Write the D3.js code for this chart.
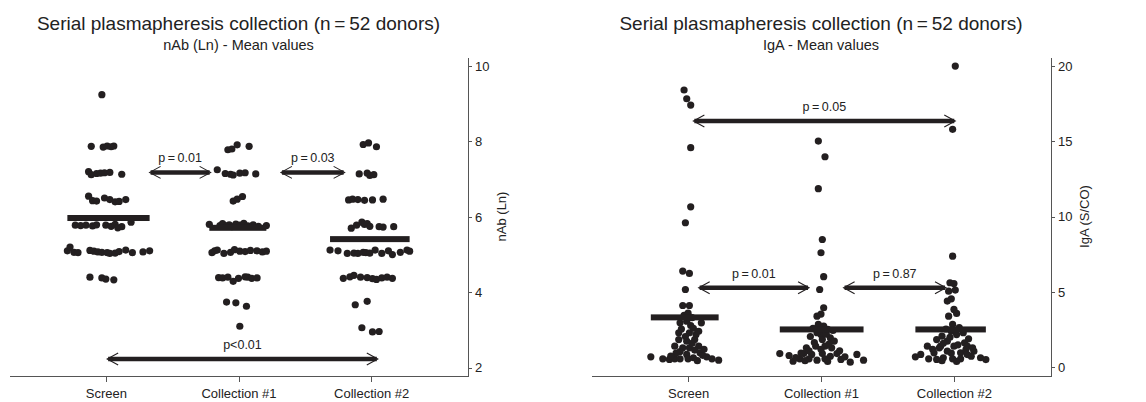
<!DOCTYPE html>
<meta charset="utf-8">
<head>
  <title>Serial plasmapheresis collection</title>
</head>
<style>
body { margin: 0; background: #fff; }
svg { font-family: "Liberation Sans", Arial, sans-serif; }
.dot { fill: #231f20; }
.mean { fill: #231f20; }
.axis path, .axis line { stroke: #555; stroke-width: 1px; shape-rendering: crispEdges; }
.axis text { fill: #222; font-size: 13px; font-family: "Liberation Sans", Arial, sans-serif; }
.arrow { stroke: #231f20; stroke-width: 4.5px; fill: none; }
.head { stroke: #231f20; stroke-width: 1.1px; fill: none; }
.plabel { fill: #222; font-size: 12.5px; text-anchor: middle; }
.title { fill: #222; font-size: 19px; text-anchor: middle; }
.subtitle { fill: #222; font-size: 14.5px; text-anchor: middle; }
.ytitle { fill: #222; font-size: 13px; text-anchor: middle; }
</style>
<body>
<svg width="1146" height="402"></svg>

<script src="https://cdnjs.cloudflare.com/ajax/libs/d3/7.8.5/d3.min.js"></script>
<script>
var categories = ["Screen", "Collection #1", "Collection #2"];

// each point: [horizontal jitter in category units, value]
var nabScreen = [
  [-0.03,9.24],
  [-0.11,7.87],[-0.02,7.85],[0.01,7.88],[0.04,7.86],[0.06,7.88],
  [-0.13,7.20],[-0.11,7.12],[-0.07,7.15],[-0.04,7.16],[-0.01,7.17],[0.03,7.18],[0.12,7.13],
  [-0.13,6.55],[-0.10,6.43],[-0.07,6.42],[-0.01,6.50],[0.03,6.46],[0.07,6.40],[0.10,6.41],[0.15,6.46],
  [-0.23,5.78],[-0.19,5.77],[-0.15,5.78],[-0.10,5.76],[-0.07,5.79],[0.00,5.78],[0.04,5.75],[0.07,5.80],[0.09,5.71],[0.12,5.74],[0.19,5.86],
  [-0.29,5.10],[-0.27,5.20],[-0.24,5.06],[-0.21,5.05],[-0.12,5.11],[-0.09,5.09],[-0.06,5.07],[-0.03,5.06],[0.01,5.05],[0.03,5.03],[0.07,5.04],[0.10,5.08],[0.15,5.12],[0.20,5.05],[0.28,5.07],[0.33,5.10],
  [-0.12,4.40],[-0.03,4.38],[0.00,4.35],[0.06,4.33]
];
var nabColl1 = [
  [-0.08,7.78],[-0.05,7.80],[-0.01,7.91],[0.08,7.87],
  [-0.16,7.25],[-0.10,7.15],[-0.06,7.13],[-0.04,7.11],[0.01,7.16],[0.05,7.17],[0.13,7.14],
  [-0.04,6.42],[-0.01,6.47],[0.03,6.54],
  [-0.22,5.80],[-0.14,5.77],[-0.12,5.82],[-0.09,5.76],[-0.07,5.79],[-0.05,5.74],[-0.02,5.81],[0.01,5.78],[0.04,5.83],[0.07,5.76],[0.11,5.79],[0.15,5.75],[0.21,5.77],
  [-0.20,5.05],[-0.18,5.10],[-0.16,5.12],[-0.11,5.03],[-0.06,5.06],[-0.03,5.13],[0.01,5.09],[0.05,5.08],[0.09,5.11],[0.14,5.10],[0.18,5.07],[0.21,5.09],
  [-0.15,4.39],[-0.12,4.38],[-0.08,4.40],[-0.04,4.29],[0.00,4.37],[0.05,4.41],[0.07,4.40],[0.10,4.37],[0.14,4.38],
  [-0.09,3.74],[-0.02,3.72],[0.06,3.63],
  [0.01,3.10]
];
var nabColl2 = [
  [-0.06,7.92],[-0.02,7.96],[0.04,7.86],
  [-0.09,7.14],[-0.03,7.16],[-0.01,7.10],[0.02,7.12],
  [-0.17,6.45],[-0.14,6.47],[-0.10,6.46],[-0.05,6.44],[0.01,6.45],[0.09,6.47],
  [-0.15,5.70],[-0.11,5.78],[-0.07,5.86],[-0.05,5.80],[-0.03,5.82],[-0.01,5.75],[0.06,5.74],[0.09,5.73],[0.17,5.74],
  [-0.31,5.12],[-0.25,5.10],[-0.18,5.03],[-0.13,5.04],[-0.10,5.03],[-0.06,5.06],[-0.04,5.05],[-0.01,5.04],[0.03,5.12],[0.08,5.03],[0.13,5.10],[0.16,5.00],[0.22,5.06],[0.27,5.12],[0.29,5.09],
  [-0.21,4.37],[-0.16,4.41],[-0.13,4.45],[-0.08,4.40],[-0.03,4.39],[0.01,4.36],[0.04,4.34],[0.08,4.38],[0.12,4.40],[0.16,4.37],
  [-0.12,3.67],[-0.03,3.76],
  [-0.07,3.06],[0.01,2.95],[0.06,2.96]
];
var igaScreen = [
  [-0.03,18.41],[-0.01,17.83],[0.02,17.41],[0.02,14.58],[0.02,10.66],[-0.02,9.60],[-0.04,6.39],[0.01,6.24],[-0.02,5.17],[-0.04,4.11],[0.01,4.11],
  [-0.06,2.96],[-0.01,3.07],[0.02,2.78],[0.10,2.96],[-0.07,2.30],[0.01,2.30],[0.06,2.18],[-0.07,1.85],[-0.01,1.74],[0.05,1.85],[-0.10,1.41],[-0.04,1.30],[0.01,1.30],[0.08,1.41],[-0.01,0.86],[0.09,0.97],
  [-0.28,0.70],[-0.19,0.57],[-0.14,0.53],[-0.10,0.57],[-0.06,0.57],[0.00,0.57],[0.04,0.64],[0.14,0.70],[0.18,0.57],[0.23,0.48],
  [-0.03,3.45],[0.03,3.30],[0.00,3.60],[-0.05,2.55],[0.04,2.60],[0.08,2.40],[-0.02,2.05],[0.03,1.60],[-0.06,1.05],[0.05,1.15],[0.11,0.80],[-0.09,0.95],[0.12,1.20],[-0.13,0.75],[0.07,0.45]
];
var igaColl1 = [
  [-0.02,15.02],[0.03,13.98],[-0.02,11.86],[0.01,8.49],[0.00,7.61],[0.02,6.02],[-0.01,5.17],[0.02,3.96],[0.00,3.54],[-0.03,3.40],
  [-0.02,2.85],[0.02,2.74],[0.05,2.52],[0.00,2.18],[0.07,1.97],[0.01,1.85],[-0.04,1.41],[0.03,1.41],[-0.11,1.30],[0.08,1.30],
  [-0.13,0.92],[-0.07,0.86],[0.01,0.92],[0.12,0.92],[-0.31,0.92],[-0.24,0.79],[-0.21,0.41],[-0.16,0.57],[-0.09,0.57],[-0.03,0.48],[0.03,0.57],[0.07,0.74],[0.15,0.53],[0.22,0.35],[0.27,0.86],[0.32,0.48],
  [-0.06,2.60],[0.09,2.45],[-0.03,2.30],[0.04,2.20],[-0.08,2.05],[0.10,1.75],[-0.05,1.65],[0.06,1.55],[-0.09,1.10],[0.00,1.20],[0.14,1.10],[-0.15,0.95],[0.18,0.70],[-0.19,0.65],[0.05,0.40],[-0.12,0.45]
];
var igaColl2 = [
  [0.01,20.0],[-0.01,15.80],[-0.01,7.38],[-0.03,5.62],[0.00,5.57],[0.01,5.13],[-0.04,5.06],[-0.02,4.55],[-0.05,4.40],[0.00,3.85],[0.02,3.58],[-0.04,3.40],[-0.01,2.85],
  [-0.02,2.40],[-0.09,2.07],[0.02,2.18],[-0.13,1.85],[-0.05,1.74],[0.08,1.63],[-0.20,1.41],[-0.10,1.41],[0.00,1.41],[0.10,1.41],
  [-0.25,0.86],[-0.15,0.97],[-0.05,1.08],[0.05,0.97],[0.15,1.08],[-0.19,0.57],[-0.13,0.53],[-0.08,0.64],[-0.01,0.57],[0.05,0.57],[0.13,0.74],[0.20,0.64],[-0.11,1.30],[0.09,1.19],
  [0.04,2.65],[-0.06,2.55],[0.07,2.30],[-0.03,2.00],[0.11,1.90],[-0.08,1.60],[0.03,1.50],[-0.16,1.20],[0.14,1.30],[-0.02,0.95],[0.10,0.85],[-0.29,0.70],[0.24,0.52],[-0.09,0.45],[0.02,0.40]
];

var nabMeans = [5.97, 5.71, 5.41];
var igaMeans = [3.32, 2.52, 2.52];

var nabTicks = [2, 4, 6, 8, 10];
var igaTicks = [0, 5, 10, 15, 20];

// p-value arrows: [from category, to category, level]
var nabArrows = [[1.33, 1.79, 7.18], [2.32, 2.80, 7.18], [1.01, 3.05, 2.23]];
var nabPLabels = ["p\u2009=\u20090.01", "p\u2009=\u20090.03", "p<0.01"];
var igaArrows = [[1.04, 3.01, 16.35], [1.08, 1.91, 5.29], [2.17, 2.94, 5.29]];
var igaPLabels = ["p\u2009=\u20090.05", "p\u2009=\u20090.01", "p\u2009=\u20090.87"];

var svg = d3.select("svg");

function drawPanel(opt) {
  var g = svg.append("g");

  var x = d3.scaleLinear().domain([0.27, 3.73]).range([opt.left, opt.right]);
  var y = d3.scaleLinear().domain(opt.yDomain).range([376, 57]);

  // axes
  g.append("g")
    .attr("class", "axis")
    .attr("transform", "translate(0,376)")
    .call(d3.axisBottom(x).tickValues([1, 2, 3])
      .tickFormat(function(d) { return categories[d - 1]; })
      .tickSize(6).tickSizeOuter(0).tickPadding(7));

  g.append("g")
    .attr("class", "axis")
    .attr("transform", "translate(" + opt.right + ",0)")
    .call(d3.axisRight(y).tickValues(opt.ticks).tickSize(4).tickSizeOuter(0).tickPadding(3));

  g.selectAll(".axis text").attr("font-size", null).attr("font-family", null);

  // dots
  opt.groups.forEach(function(pts, i) {
    g.append("g").selectAll("circle")
      .data(pts)
      .enter()
      .append("circle")
      .attr("class", "dot")
      .attr("cx", function(d) { return x(i + 1 + d[0]); })
      .attr("cy", function(d) { return y(d[1]); })
      .attr("r", 3.6);
  });

  // mean bars, as wide as each group's spread
  g.append("g").selectAll("rect")
    .data(opt.means)
    .enter()
    .append("rect")
    .attr("class", "mean")
    .attr("x", function(d, i) { return x(i + 1 + d3.min(opt.groups[i], function(p) { return p[0]; })); })
    .attr("width", function(d, i) {
      var e = d3.extent(opt.groups[i], function(p) { return p[0]; });
      return x(e[1]) - x(e[0]);
    })
    .attr("y", function(d) { return y(d) - 3; })
    .attr("height", 6);

  // p-value arrows
  var arr = g.append("g").selectAll("g")
    .data(opt.arrows)
    .enter()
    .append("g");

  arr.append("line")
    .attr("class", "arrow")
    .attr("x1", function(d) { return x(d[0]) + 1; })
    .attr("x2", function(d) { return x(d[1]) - 1; })
    .attr("y1", function(d) { return y(d[2]); })
    .attr("y2", function(d) { return y(d[2]); });

  arr.append("path")
    .attr("class", "head")
    .attr("d", function(d) {
      var a = x(d[0]), b = x(d[1]), yy = y(d[2]);
      return "M" + (a + 11) + "," + (yy - 6) + "L" + a + "," + yy + "L" + (a + 11) + "," + (yy + 6) +
             "M" + (b - 11) + "," + (yy - 6) + "L" + b + "," + yy + "L" + (b - 11) + "," + (yy + 6);
    });

  arr.append("text")
    .attr("class", "plabel")
    .attr("x", function(d) { return (x(d[0]) + x(d[1])) / 2; })
    .attr("y", function(d) { return y(d[2]) - 10; })
    .text(function(d, i) { return opt.labels[i]; });

  // titles
  g.append("text")
    .attr("class", "title")
    .attr("x", x(2))
    .attr("y", 30)
    .text("Serial plasmapheresis collection (n\u2009=\u200952 donors)");

  g.append("text")
    .attr("class", "subtitle")
    .attr("x", x(2))
    .attr("y", 50)
    .text(opt.subtitle);

  g.append("text")
    .attr("class", "ytitle")
    .attr("transform", "translate(" + (opt.right + 38) + "," + ((y.range()[0] + y.range()[1]) / 2) + ") rotate(-90)")
    .text(opt.ytitle);
}

drawPanel({
  left: 9, right: 468,
  yDomain: [1.78, 10.24], ticks: nabTicks,
  groups: [nabScreen, nabColl1, nabColl2],
  means: nabMeans,
  arrows: nabArrows, labels: nabPLabels,
  subtitle: "nAb (Ln) - Mean values",
  ytitle: "nAb (Ln)"
});

drawPanel({
  left: 591, right: 1051,
  yDomain: [-0.57, 20.6], ticks: igaTicks,
  groups: [igaScreen, igaColl1, igaColl2],
  means: igaMeans,
  arrows: igaArrows, labels: igaPLabels,
  subtitle: "IgA - Mean values",
  ytitle: "IgA (S/CO)"
});
</script>
</body>
</html>
